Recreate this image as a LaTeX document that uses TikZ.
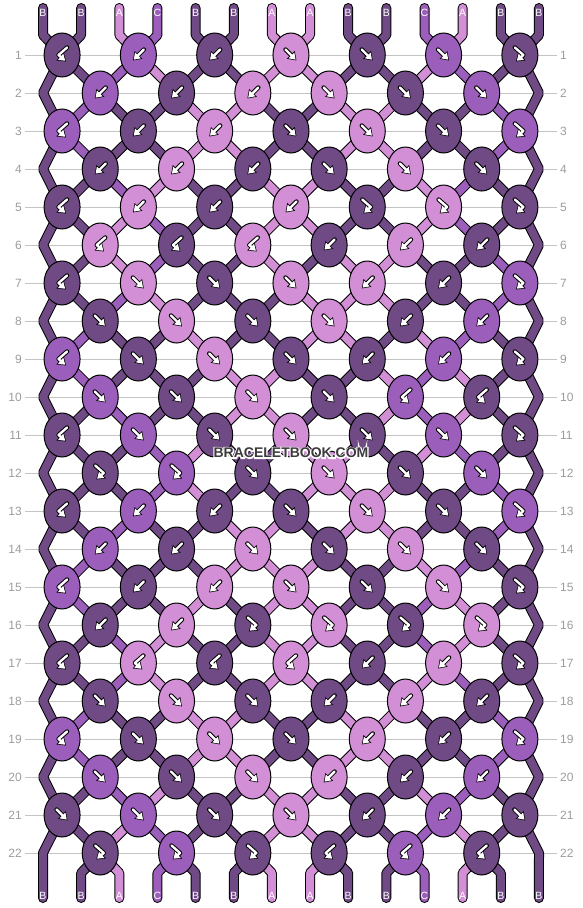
\documentclass[tikz,border=0pt]{standalone}
\usepackage{fontspec}
\setmainfont{Liberation Sans}
\usetikzlibrary{arrows.meta,shapes.geometric,backgrounds}
\definecolor{strA}{HTML}{D38FD6}
\definecolor{strB}{HTML}{6F4A85}
\definecolor{strC}{HTML}{9B5EBB}
\definecolor{rulegray}{HTML}{C4C4C4}
\definecolor{numgray}{HTML}{9C9C9C}
\definecolor{wmgray}{HTML}{3C3C3C}
\newcommand\haloed[1]{\rlap{\special{pdf:literal direct q 1 Tr 2.4 w 1 G}#1\special{pdf:literal direct 0 Tr Q}}#1}

\begin{document}
\begin{tikzpicture}[x=1pt,y=-1pt,
  knot/.style={ellipse,draw=black,line width=1pt,minimum width=36pt,minimum height=44pt,inner sep=0pt},
  thread/.style={draw=black,line width=1pt,double=#1,double distance=8pt,line cap=round,line join=round},
  rownum/.style={text=numgray,font=\fontsize{12}{12}\selectfont,inner sep=3pt},
  endlbl/.style={text=white,font=\fontsize{10.5}{10.5}\selectfont,inner sep=0pt},
  wmark/.style={font=\bfseries\fontsize{14}{14}\selectfont,inner sep=0pt},
  gout/.style={black,line width=4.4pt,line cap=round,line join=round,-{Triangle[length=8pt,width=10.5pt]}},
  gin/.style={white,line width=2.4pt,line cap=round,line join=round,shorten >=1.2pt,-{Triangle[length=6pt,width=7.8pt]}},
  knotf/.pic={\draw[gout] (-5.5,-5.5) -- (5.5,5.5); \draw[gin] (-5.5,-5.5) -- (5.5,5.5);},
  knotb/.pic={\draw[gout] (5.5,-5.5) -- (-5.5,5.5); \draw[gin] (5.5,-5.5) -- (-5.5,5.5);},
  knotfb/.pic={\draw[gout] (-5,-7.5) -- (3.5,0) -- (-4,6.5); \draw[gin] (-5,-7.5) -- (3.5,0) -- (-4,6.5);},
  knotbf/.pic={\draw[gout] (5,-7.5) -- (-3.5,0) -- (4,6.5); \draw[gin] (5,-7.5) -- (-3.5,0) -- (4,6.5);}]
\useasboundingbox (0,0) rectangle (582,908);

\foreach \r in {1,...,22}{
  \pgfmathsetmacro\ry{55+38*(\r-1)}
  \node[rownum,anchor=east] (numL-\r) at (25,\ry) {\r};
  \node[rownum,anchor=west] (numR-\r) at (557,\ry) {\r};
}
\foreach \p in {1,...,14}{
  \pgfmathsetmacro\px{43+38.15*(\p-1)}
  \coordinate (tt-\p) at (\px,8);
  \coordinate (t-\p) at (\px,35);
  \coordinate (tl-\p) at (\px,12.5);
  \coordinate (bb-\p) at (\px,873);
  \coordinate (be-\p) at (\px,898);
  \coordinate (bl-\p) at (\px,895.5);
}
\foreach \r in {2,4,...,22}{
  \pgfmathsetmacro\ry{55+38*(\r-1)}
  \coordinate (eL-\r) at (43,\ry);
  \coordinate (eR-\r) at (539,\ry);
}

\foreach \r/\row in {
  1/{B/bf,C/b,B/b,A/f,B/f,C/f,B/fb},
  2/{C/b,B/b,A/b,A/f,B/f,C/f},
  3/{C/bf,B/b,A/b,B/f,A/f,B/f,C/fb},
  4/{B/b,A/b,B/b,B/f,A/f,B/f},
  5/{B/bf,A/b,B/b,A/b,B/fb,A/fb,B/fb},
  6/{A/bf,B/bf,A/bf,B/b,A/b,B/b},
  7/{B/bf,A/f,B/f,A/f,A/b,B/b,C/fb},
  8/{B/f,A/f,B/f,A/f,B/b,C/b},
  9/{C/bf,B/f,A/f,B/f,B/b,C/b,B/fb},
  10/{C/f,B/f,A/f,B/f,C/bf,B/bf},
  11/{B/bf,C/f,B/f,A/f,B/f,C/f,B/fb},
  12/{B/fb,C/fb,B/f,A/f,B/f,C/f},
  13/{B/bf,C/b,B/b,B/f,A/f,B/f,C/fb},
  14/{C/b,B/b,A/f,B/f,A/f,B/f},
  15/{C/bf,B/b,A/b,A/f,B/f,A/f,B/fb},
  16/{B/b,A/b,B/fb,A/fb,B/fb,A/fb},
  17/{B/bf,A/bf,B/bf,A/bf,B/b,A/b,B/fb},
  18/{B/f,A/f,B/f,B/b,A/b,B/b},
  19/{C/bf,B/f,A/f,B/f,A/b,B/b,C/fb},
  20/{C/f,B/f,A/f,A/b,B/b,C/b},
  21/{B/f,C/f,B/f,A/f,B/b,C/b,B/f},
  22/{B/fb,C/fb,B/fb,B/bf,C/bf,B/bf}}{
  \foreach \c/\t [count=\i] in \row {
    \pgfmathsetmacro\kx{(isodd(\r) ? 62.075 : 100.225)+76.3*(\i-1)}
    \pgfmathsetmacro\ky{55+38*(\r-1)}
    \node[knot,fill=str\c] (k-\r-\i) at (\kx,\ky) {};
    \pic at (k-\r-\i) {knot\t};
  }
}

\begin{pgfonlayer}{background}
\foreach \r in {1,...,22}
  \draw[rulegray,line width=1pt] (numL-\r) -- (numR-\r);

\foreach \c [count=\p] in {B,B,A,C,B,B,A,A,B,B,C,A,B,B}{
  \pgfmathtruncatemacro\ki{int((\p+1)/2)}
  \draw[thread=str\c] (tt-\p) -- (t-\p) -- (k-1-\ki.center);
  \node[endlbl] (top-\p) at (tl-\p) {\c};
}

\foreach \r/\st in {
  2/{B,B,C,A,B,B,A,A,B,B,A,C,B,B},
  3/{B,C,B,B,A,A,B,B,A,A,B,B,C,B},
  4/{B,C,B,B,A,A,B,B,A,A,B,B,C,B},
  5/{B,B,C,A,B,B,A,A,B,B,A,C,B,B},
  6/{B,B,A,C,B,B,A,A,B,B,A,C,B,B},
  7/{B,B,A,C,B,B,A,B,A,A,B,B,C,B},
  8/{B,B,C,A,B,B,B,A,A,A,B,B,C,B},
  9/{B,C,B,B,A,B,B,A,A,B,A,C,B,B},
  10/{B,C,B,B,B,A,A,B,B,A,C,A,B,B},
  11/{B,B,C,B,B,A,A,B,B,A,C,A,B,B},
  12/{B,B,B,C,A,B,B,A,A,B,A,C,B,B},
  13/{B,B,B,C,A,B,B,A,A,A,B,B,C,B},
  14/{B,B,C,B,B,A,A,B,A,A,B,B,C,B},
  15/{B,C,B,B,B,A,A,A,B,B,A,C,B,B},
  16/{B,C,B,B,A,B,A,A,B,B,C,A,B,B},
  17/{B,B,C,A,B,B,A,A,B,B,C,A,B,B},
  18/{B,B,C,A,B,B,A,A,B,B,A,C,B,B},
  19/{B,C,B,B,A,A,B,B,A,A,B,B,C,B},
  20/{B,C,B,B,A,A,B,B,A,A,B,B,C,B},
  21/{B,B,C,A,B,B,A,A,B,B,A,C,B,B},
  22/{B,B,A,C,B,B,A,A,B,B,C,A,B,B}}{
  \pgfmathtruncatemacro\ra{\r-1}
  \foreach \c [count=\p] in \st {
    \ifnum\p>1 \ifnum\p<14
      \pgfmathtruncatemacro\ka{isodd(\ra) ? int((\p+1)/2) : int(\p/2)}
      \pgfmathtruncatemacro\kb{isodd(\r) ? int((\p+1)/2) : int(\p/2)}
      \draw[thread=str\c] (k-\ra-\ka.center) -- (k-\r-\kb.center);
    \fi\fi
  }
}

\foreach \r in {2,4,...,20}{
  \pgfmathtruncatemacro\ra{\r-1}
  \pgfmathtruncatemacro\rb{\r+1}
  \draw[thread=strB,line join=bevel] (k-\ra-1.center) -- (eL-\r) -- (k-\rb-1.center);
  \draw[thread=strB,line join=bevel] (k-\ra-7.center) -- (eR-\r) -- (k-\rb-7.center);
}
\draw[thread=strB] (k-21-1.center) -- (eL-22) -- (be-1);
\draw[thread=strB] (k-21-7.center) -- (eR-22) -- (be-14);

\foreach \c [count=\p] in {B,B,A,C,B,B,A,A,B,B,C,A,B,B}{
  \ifnum\p>1 \ifnum\p<14
    \pgfmathtruncatemacro\ki{int(\p/2)}
    \draw[thread=str\c] (k-22-\ki.center) -- (bb-\p) -- (be-\p);
  \fi\fi
  \node[endlbl] (bot-\p) at (bl-\p) {\c};
}
\end{pgfonlayer}

\node[wmark,text=wmgray] (wm) at (291,453) {\haloed{BRACELETBOOK.COM}};
\end{tikzpicture}
\end{document}
